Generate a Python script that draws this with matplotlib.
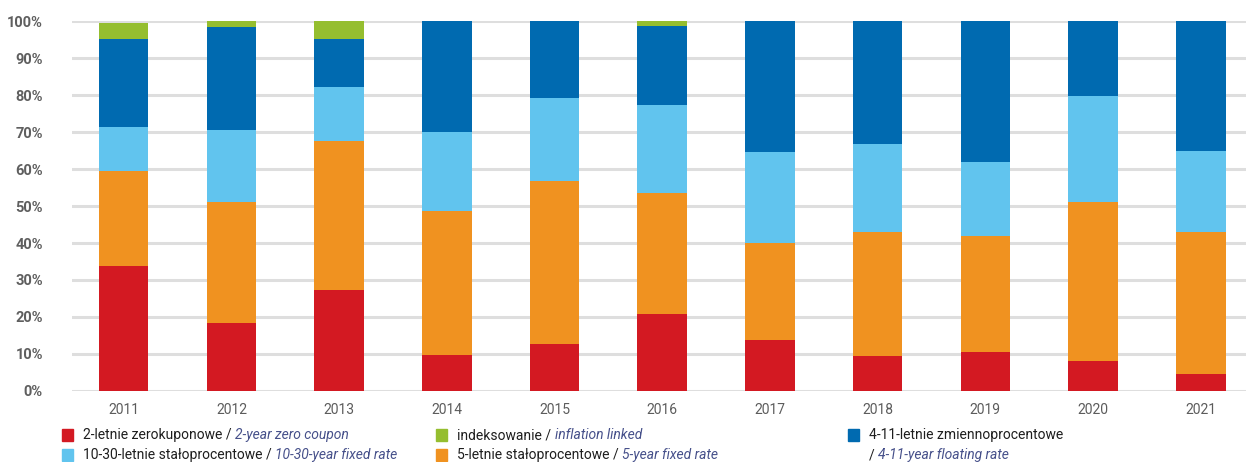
import matplotlib
matplotlib.use("Agg")
import matplotlib.pyplot as plt
from matplotlib.patches import Rectangle
import numpy as np

# udział serii obligacji w portfelu (%)
years = ['2011', '2012', '2013', '2014', '2015', '2016', '2017', '2018', '2019', '2020', '2021']
zero_2y = [33.9, 18.4, 27.3, 9.7, 12.8, 20.8, 13.8, 9.5, 10.5, 8.1, 4.6]
fixed_5y = [25.6, 32.8, 40.3, 38.9, 44.0, 32.7, 26.2, 33.5, 31.4, 43.0, 38.4]
fixed_10_30y = [11.9, 19.3, 14.6, 21.4, 22.4, 23.8, 24.6, 23.8, 20.0, 28.6, 21.9]
floating_4_11y = [23.7, 27.9, 12.9, 30.0, 20.8, 21.3, 35.4, 33.2, 38.1, 20.3, 35.1]
inflation = [4.4, 1.6, 4.9, 0, 0, 1.4, 0, 0, 0, 0, 0]

c_red = '#D31922'
c_orange = '#F09220'
c_light = '#61C4EE'
c_dark = '#006AB0'
c_green = '#95BE2F'

series = [
    (zero_2y, c_red),
    (fixed_5y, c_orange),
    (fixed_10_30y, c_light),
    (floating_4_11y, c_dark),
    (inflation, c_green),
]

fig = plt.figure(figsize=(12.46, 4.62), dpi=100)
ax = fig.add_axes([0.0578, 0.1537, 0.9422, 0.8008])

x = np.arange(len(years))
bottom = np.zeros(len(years))
for vals, col in series:
    ax.bar(x, vals, width=0.46, bottom=bottom, color=col, zorder=3, linewidth=0)
    bottom += np.array(vals)

ax.set_xlim(-0.48, 10.42)
ax.set_ylim(0, 100)
ax.set_yticks(np.arange(0, 101, 10))
ax.set_yticklabels([f'{v}%' for v in range(0, 101, 10)],
                   fontfamily='Roboto', fontweight='bold',
                   fontsize=10.5, color='#5f5f5f')
ax.set_xticks(x)
ax.set_xticklabels(years, fontfamily='Roboto', fontsize=10, color='#5c5c5c')
ax.tick_params(axis='both', length=0)
ax.tick_params(axis='y', pad=21)
ax.tick_params(axis='x', pad=9)
ax.yaxis.grid(True, color='#dedede', linewidth=2.2, zorder=0)
for s in ax.spines.values():
    s.set_visible(False)

# legenda rysowana ręcznie: część polska zwykłą czcionką, angielska kursywą
renderer = fig.canvas.get_renderer()
W, H = fig.get_size_inches() * fig.dpi
leg_font = 'Roboto'
leg_size = 10
italic_col = '#46508a'


def legend_item(px, py, color, pl, en, square=True):
    if square:
        fig.patches.append(Rectangle(((px - 21) / W, 1 - (py + 6) / H), 11 / W, 12 / H,
                                     transform=fig.transFigure, color=color,
                                     figure=fig))
    t1 = fig.text(px / W, 1 - py / H, pl, fontfamily=leg_font, fontsize=leg_size,
                  color='#1e1e1e', va='center', ha='left')
    if en:
        w = t1.get_window_extent(renderer).width
        fig.text((px + w) / W, 1 - py / H, en, fontfamily=leg_font,
                 fontsize=leg_size, style='italic', color=italic_col,
                 va='center', ha='left')


legend_item(83, 435, c_red, '2-letnie zerokuponowe / ', '2-year zero coupon')
legend_item(83, 455, c_light, '10-30-letnie stałoprocentowe / ', '10-30-year fixed rate')
legend_item(457, 435, c_green, 'indeksowanie / ', 'inflation linked')
legend_item(457, 455, c_orange, '5-letnie stałoprocentowe / ', '5-year fixed rate')
legend_item(869, 435, c_dark, '4-11-letnie zmiennoprocentowe', '')
legend_item(869, 455, c_dark, '/ ', '4-11-year floating rate', square=False)

fig.savefig('out.png', dpi=100)
